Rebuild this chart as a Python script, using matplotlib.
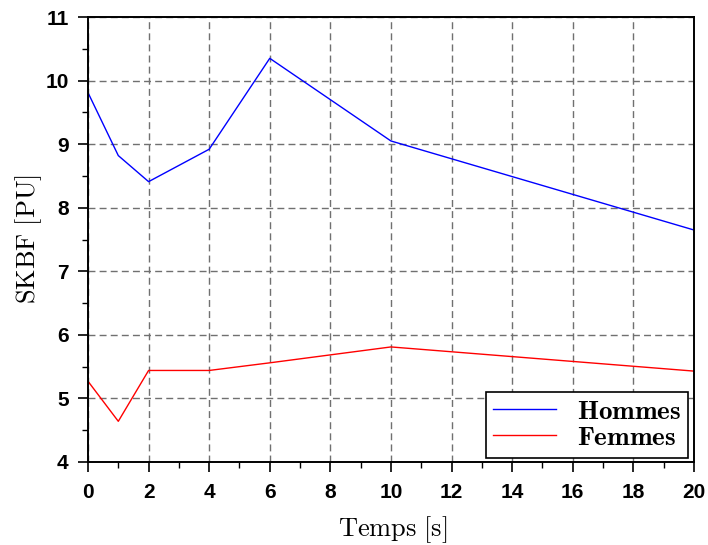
import numpy as np
import matplotlib
matplotlib.use("Agg")
import matplotlib.pyplot as plt
from matplotlib.ticker import MultipleLocator

plt.rcParams['mathtext.fontset'] = 'cm'

# donnees
temps = [0, 1, 2, 4, 6, 10, 20]
hommes = [9.81, 8.82, 8.41, 8.92, 10.35, 9.05, 7.65]
femmes = [5.27, 4.64, 5.44, 5.44, 5.56, 5.81, 5.43]

fig = plt.figure(figsize=(7.08, 5.45), dpi=100)
ax = fig.add_axes([0.1243, 0.1523, 0.8557, 0.8165])

ax.plot(temps, hommes, color='#0000ff', lw=1.0, label=r'$\mathbf{Hommes}$')
ax.plot(temps, femmes, color='#ff0000', lw=1.0, label=r'$\mathbf{Femmes}$')

ax.set_xlim(0, 20)
ax.set_ylim(4, 11)
ax.xaxis.set_major_locator(MultipleLocator(2))
ax.xaxis.set_minor_locator(MultipleLocator(1))
ax.yaxis.set_major_locator(MultipleLocator(1))
ax.yaxis.set_minor_locator(MultipleLocator(0.5))

ax.grid(True, which='major', color='#707070', linestyle=(0, (5, 3)), lw=1.0)
ax.tick_params(axis='x', which='major', direction='out', length=7, width=1.2,
               labelsize=15, pad=8)
ax.tick_params(axis='y', which='major', direction='out', length=7, width=1.2,
               labelsize=15, pad=7)
ax.tick_params(which='minor', direction='out', length=4, width=1.0)
for lab in ax.get_xticklabels() + ax.get_yticklabels():
    lab.set_fontfamily('Liberation Sans')
    lab.set_fontweight('bold')
for s in ax.spines.values():
    s.set_linewidth(1.4)

ax.set_xlabel(r'$\mathrm{Temps\ [s]}$', fontsize=19)
ax.set_ylabel(r'$\mathrm{SKBF\ [PU]}$', fontsize=19)
ax.xaxis.set_label_coords(0.503, -0.117)
ax.yaxis.set_label_coords(-0.073, 0.5)

leg = ax.legend(loc='lower right', bbox_to_anchor=(1 - 6/606, 4/445),
                borderaxespad=0, fontsize=19.5, fancybox=False, framealpha=1,
                edgecolor='black', handlelength=2.35, handletextpad=0.75,
                borderpad=0.26, labelspacing=0.0)
leg.get_frame().set_linewidth(1.2)

plt.savefig('out.png', dpi=100)
